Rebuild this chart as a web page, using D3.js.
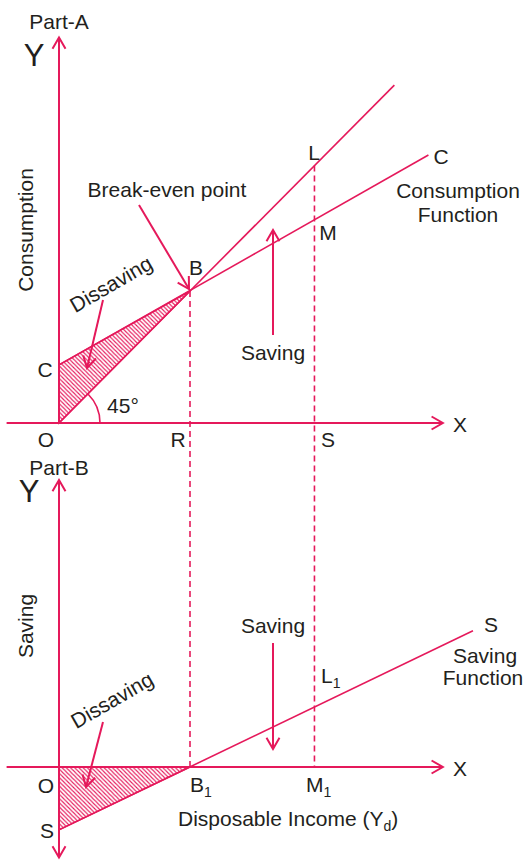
<!DOCTYPE html>
<html>
<head>
<meta charset="utf-8">
<script src="https://cdn.jsdelivr.net/npm/d3@7"></script>
<style>
  html, body { margin: 0; padding: 0; background: #fff; }
  svg text { font-family: "Liberation Sans", Arial, Helvetica, sans-serif; fill: #231f20; }
</style>
</head>
<body>
<svg id="chart" width="525" height="861"></svg>
<script>
// ---- Data (income and amounts in the same units) ----
const breakEvenIncome = 100;          // point B / B1
const compareIncome = 195;            // point S / M1
const fortyFiveLine = [[0, 0], [256, 256]];           // Y = C line
const consumptionFn = [[0, 44], [282, 203]];          // C = a + bY
const savingFn = [[0, -48], [316, 104]];              // S = -a + (1-b)Y
const xAxisRange = [-40, 293];
const yAxisRangeA = [0, 292];
const yAxisRangeB = [-69, 219];

const pink = "#e5195b";
const fs = 21;
const svg = d3.select("#chart");

// ---- Scales ----
const x = d3.scaleLinear().domain([0, 100]).range([59, 190]);
const yA = d3.scaleLinear().domain([0, 100]).range([423, 291]);
const yB = d3.scaleLinear().domain([0, 100]).range([767, 636]);

// value of a straight line (two points) at income v
const at = (ln, v) => ln[0][1] + (ln[1][1] - ln[0][1]) * (v - ln[0][0]) / (ln[1][0] - ln[0][0]);

// ---- Hatch pattern ----
const defs = svg.append("defs");
defs.append("pattern")
  .attr("id", "hatch").attr("patternUnits", "userSpaceOnUse")
  .attr("width", 4.2).attr("height", 4.2)
  .append("path")
  .attr("d", "M-1,-1 L5.2,5.2 M-1,3.2 L1,5.2 M3.2,-1 L5.2,1")
  .attr("stroke", pink).attr("stroke-width", 1.1);

// ---- helpers ----
function line(x1, y1, x2, y2, w, dash) {
  const l = svg.append("line").attr("x1", x1).attr("y1", y1).attr("x2", x2).attr("y2", y2)
    .attr("stroke", pink).attr("stroke-width", w);
  if (dash) l.attr("stroke-dasharray", dash);
  return l;
}
function arrowHead(tx, ty, fx, fy, len = 13, spread = 30, w = 2) {
  const a = Math.atan2(ty - fy, tx - fx);
  const s = spread * Math.PI / 180;
  const p1 = [tx - len * Math.cos(a - s), ty - len * Math.sin(a - s)];
  const p2 = [tx - len * Math.cos(a + s), ty - len * Math.sin(a + s)];
  svg.append("path").attr("d", `M${p1[0]},${p1[1]} L${tx},${ty} L${p2[0]},${p2[1]}`)
    .attr("fill", "none").attr("stroke", pink).attr("stroke-width", w)
    .attr("stroke-linejoin", "miter");
}
function arrow(x1, y1, x2, y2, w = 2, len = 13) {
  line(x1, y1, x2, y2, w);
  arrowHead(x2, y2, x1, y1, len, 30, w);
}
function label(t, px, py, size = fs, anchor = "middle") {
  return svg.append("text").attr("x", px).attr("y", py).attr("font-size", size)
    .attr("text-anchor", anchor).text(t);
}
function subLabel(main, sub, px, py) {
  const t = svg.append("text").attr("x", px).attr("y", py).attr("font-size", fs);
  t.append("tspan").text(main);
  t.append("tspan").attr("font-size", 14).attr("dy", 5).text(sub);
  return t;
}

// ---- Hatched dissaving areas ----
const poly = d3.line();
svg.append("path")
  .attr("d", poly([[x(0), yA(0)], [x(0), yA(consumptionFn[0][1])], [x(breakEvenIncome), yA(breakEvenIncome)]]) + "Z")
  .attr("fill", "url(#hatch)").attr("stroke", pink).attr("stroke-width", 1.5);
svg.append("path")
  .attr("d", poly([[x(0), yB(0)], [x(breakEvenIncome), yB(0)], [x(0), yB(savingFn[0][1])]]) + "Z")
  .attr("fill", "url(#hatch)").attr("stroke", pink).attr("stroke-width", 1.5);

// ---- Part A axes ----
line(x(0), yA(yAxisRangeA[0]), x(0), yA(yAxisRangeA[1]), 2);
arrowHead(x(0), yA(yAxisRangeA[1]), x(0), yA(0));
line(x(xAxisRange[0]), yA(0), x(xAxisRange[1]), yA(0), 2);
arrowHead(x(xAxisRange[1]), yA(0), x(0), yA(0));

// ---- Part B axes ----
line(x(0), yB(yAxisRangeB[0]), x(0), yB(yAxisRangeB[1]), 2);
arrowHead(x(0), yB(yAxisRangeB[1]), x(0), yB(0));
arrowHead(x(0), yB(yAxisRangeB[0]), x(0), yB(0));
line(x(xAxisRange[0]), yB(0), x(xAxisRange[1]), yB(0), 2);
arrowHead(x(xAxisRange[1]), yB(0), x(0), yB(0));

// ---- Dashed verticals through B and L ----
line(x(breakEvenIncome), yA(breakEvenIncome), x(breakEvenIncome), yB(0), 1.6, "6,4");
line(x(compareIncome), yA(at(fortyFiveLine, compareIncome)), x(compareIncome), yB(0), 1.6, "6,4");

// ---- Functions ----
line(x(fortyFiveLine[0][0]), yA(fortyFiveLine[0][1]), x(fortyFiveLine[1][0]), yA(fortyFiveLine[1][1]), 1.6);
line(x(consumptionFn[0][0]), yA(consumptionFn[0][1]), x(consumptionFn[1][0]), yA(consumptionFn[1][1]), 1.6);
line(x(savingFn[0][0]), yB(savingFn[0][1]), x(savingFn[1][0]), yB(savingFn[1][1]), 1.6);

// 45 degree arc
const r = 41;
svg.append("path")
  .attr("d", `M${x(0) + r},${yA(0)} A${r},${r} 0 0 0 ${x(0) + r * Math.SQRT1_2},${yA(0) - r * Math.SQRT1_2}`)
  .attr("fill", "none").attr("stroke", pink).attr("stroke-width", 1.6);

// ---- Annotation arrows ----
const bx = x(breakEvenIncome), byA = yA(breakEvenIncome);
arrow(139, 205, bx - 1, byA - 2);               // break-even point
arrow(103, 300, 87, 368);                       // dissaving (A)
arrow(273, 335, 273, 230);                      // saving (A)
arrow(103, 722, 86, 787);                       // dissaving (B)
arrow(273, 643, 273, 749);                      // saving (B)

// ---- Part A text ----
label("Part-A", 59, 29);
label("Y", 34, 66, 31);
svg.append("text").attr("transform", "translate(33,230) rotate(-90)")
  .attr("font-size", fs).attr("text-anchor", "middle").text("Consumption");
label("Break-even point", 167, 197);
label("B", 196, 275);
svg.append("text").attr("transform", "translate(111,284) rotate(-30)")
  .attr("font-size", fs).attr("text-anchor", "middle").attr("dy", "0.35em").text("Dissaving");
label("C", 45, 377);
label("45°", 123, 413);
label("O", 46, 447);
label("R", 178, 447);
label("S", 328, 447);
label("X", 460, 432);
label("L", 314, 160);
label("M", 328, 240);
label("C", 441, 164);
label("Consumption", 458, 198);
label("Function", 458, 222);
label("Saving", 273, 360);

// ---- Part B text ----
label("Part-B", 59, 475);
label("Y", 29, 502, 31);
svg.append("text").attr("transform", "translate(33,626) rotate(-90)")
  .attr("font-size", fs).attr("text-anchor", "middle").text("Saving");
label("Saving", 273, 633);
label("S", 491, 632);
label("Saving", 485, 663);
label("Function", 483, 685);
subLabel("L", "1", 321, 683);
svg.append("text").attr("transform", "translate(112,700) rotate(-30)")
  .attr("font-size", fs).attr("text-anchor", "middle").attr("dy", "0.35em").text("Dissaving");
label("O", 46, 793);
label("S", 47, 838);
subLabel("B", "1", 190, 792);
subLabel("M", "1", 306, 792);
label("X", 460, 776);
const di = svg.append("text").attr("x", 178).attr("y", 826).attr("font-size", fs);
di.append("tspan").text("Disposable Income (Y");
di.append("tspan").attr("font-size", 14).attr("dy", 5).text("d");
di.append("tspan").attr("dy", -5).text(")");
</script>
</body>
</html>
